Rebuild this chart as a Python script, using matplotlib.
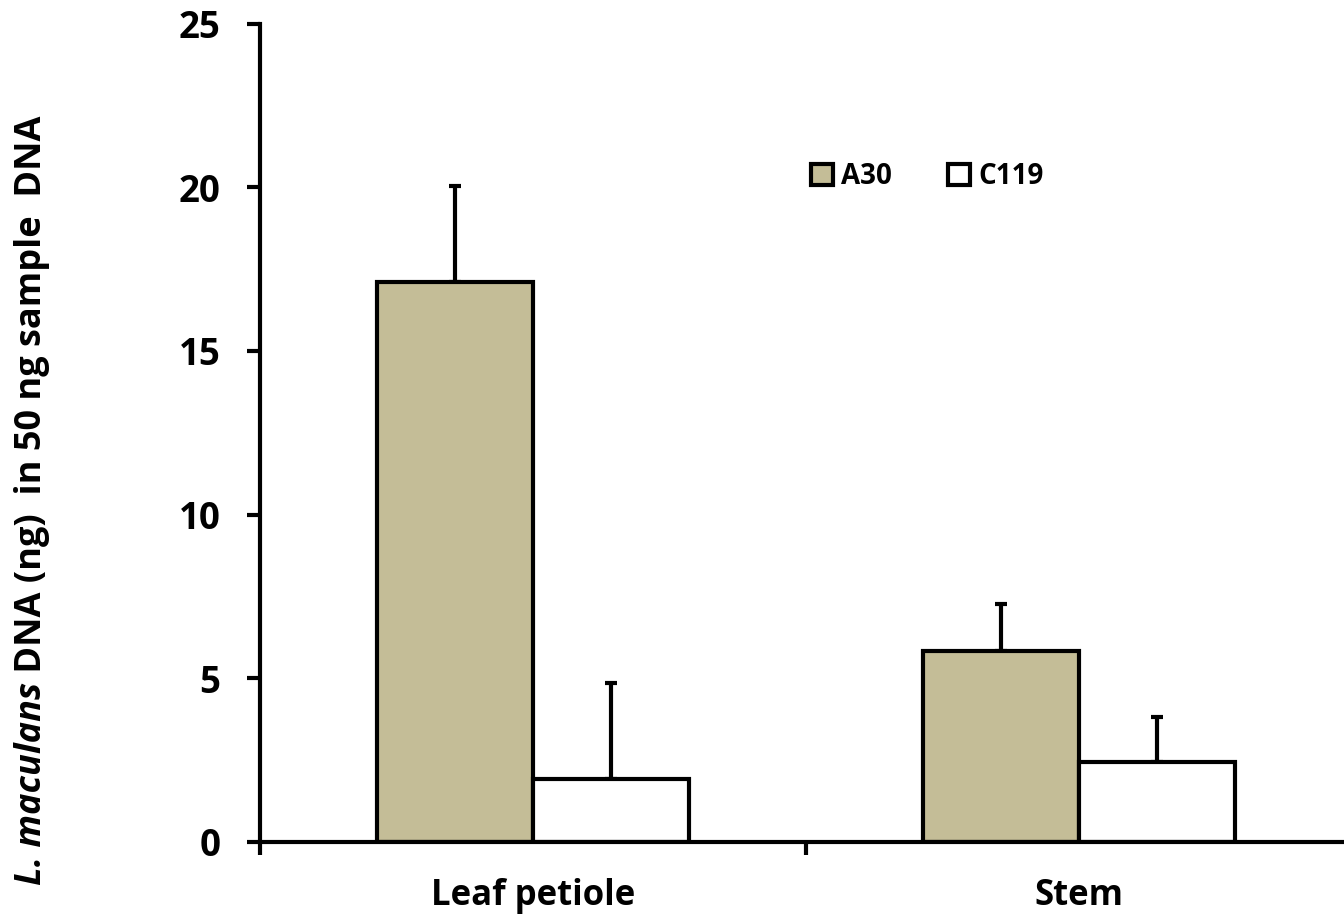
import matplotlib
matplotlib.use("Agg")
import matplotlib.pyplot as plt
from matplotlib.patches import Rectangle
import numpy as np

categories = ["Leaf petiole", "Stem"]
series = ["A30", "C119"]
a30 = [17.11, 5.84]
c119 = [1.91, 2.43]
a30_err = [2.93, 1.42]
c119_err = [2.93, 1.39]
yticks = [0, 5, 10, 15, 20, 25]

FONT = "Open Sans"
plt.rcParams["font.family"] = [FONT, "DejaVu Sans"]

fig = plt.figure(figsize=(13.44, 9.17), dpi=100)
ax = fig.add_axes([260/1344, 1-841.7/917, (1352-260)/1344, (841.7-23.7)/917])

x = np.arange(len(categories))
w = 0.286
colors = ["#C4BD97", "white"]
lw = 3.0
for i, (vals, errs) in enumerate([(a30, a30_err), (c119, c119_err)]):
    pos = x + (i - 0.5) * w
    ax.errorbar(pos, vals, yerr=[np.zeros(len(vals)), errs], fmt="none",
                ecolor="black", elinewidth=lw, capsize=4.3, capthick=lw, zorder=1)
    ax.bar(pos, vals, width=w, color=colors[i], edgecolor="black", linewidth=lw, zorder=2)

ax.set_xlim(-0.5, len(categories) - 0.5)
ax.set_ylim(0, 25)
ax.set_yticks(yticks)
ax.set_yticklabels([str(t) for t in yticks])
ax.set_xticks(np.arange(len(categories) + 1) - 0.5)
ax.set_xticklabels([])
ax.set_xticks(x, minor=True)
ax.set_xticklabels(categories, minor=True)
ax.tick_params(axis="x", which="minor", length=0, pad=26, labelsize=25)
ax.tick_params(axis="x", which="major", length=9.4, width=lw, direction="out")
ax.tick_params(axis="y", length=9.4, width=lw, direction="out", labelsize=26.4, pad=19)
for lab in ax.get_xticklabels(minor=True) + ax.get_yticklabels():
    lab.set_fontweight("bold")
for s in ["top", "right"]:
    ax.spines[s].set_visible(False)
for s in ["left", "bottom"]:
    ax.spines[s].set_linewidth(lw)
ax.spines["left"].set_bounds(0, 25)

handles = [Rectangle((0, 0), 1, 1, facecolor=c, edgecolor="black", linewidth=3) for c in colors]
leg = ax.legend(handles, series, ncol=2, loc="center", bbox_to_anchor=(927/1344, 1-177/917),
                bbox_transform=fig.transFigure, frameon=False, handlelength=0.8, handleheight=0.8,
                handletextpad=0.3, columnspacing=2.0, prop={"family": FONT, "weight": "bold", "size": 20})

# y label with italic part
fig.canvas.draw()
r = fig.canvas.get_renderer()
xlab = 32/1344
fs = 26
t1 = fig.text(xlab, 0, "L. maculans", rotation=90, ha="center", va="bottom",
              fontsize=fs, fontweight="bold", style="italic")
t2 = fig.text(xlab, 0, " DNA (ng)  in 50 ng sample  DNA", rotation=90, ha="center", va="bottom",
              fontsize=fs, fontweight="bold")
h1 = t1.get_window_extent(r).height / fig.bbox.height
h2 = t2.get_window_extent(r).height / fig.bbox.height
ycen = 1 - 500/917
ybot = ycen - (h1 + h2) / 2
t1.set_y(ybot)
t2.set_y(ybot + h1)

fig.savefig("out.png", dpi=100)
